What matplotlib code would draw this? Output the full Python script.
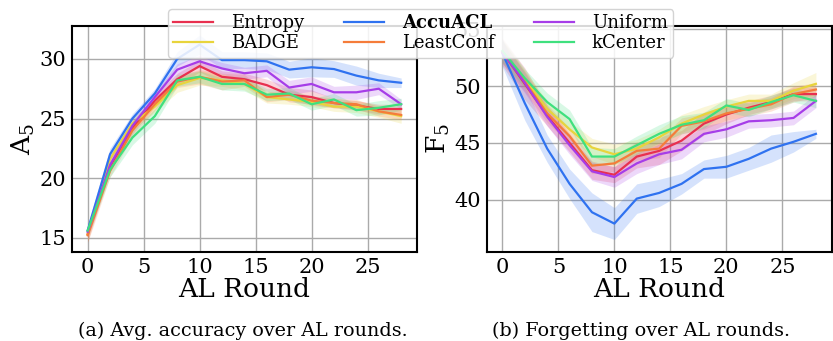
import numpy as np
import matplotlib
matplotlib.use("Agg")
import matplotlib.pyplot as plt

rounds = np.arange(0, 29, 2)

methods = ["Entropy", "BADGE", "AccuACL", "LeastConf", "Uniform", "kCenter"]
colors = {"Entropy": "#e8304f", "BADGE": "#e8d43c", "AccuACL": "#2f72f0",
          "LeastConf": "#f57c3a", "Uniform": "#a63de8", "kCenter": "#3fe07e"}

# A_5 (avg. accuracy)
acc_entropy = [15.3, 21.0, 24.2, 26.5, 28.3, 29.4, 28.5, 28.3, 27.8, 27.0, 26.8, 26.3, 26.1, 25.8, 25.8]
acc_badge = [15.3, 21.6, 24.6, 26.0, 27.8, 28.4, 28.2, 27.9, 26.8, 26.6, 26.4, 26.0, 26.0, 25.6, 25.2]
acc_accuacl = [15.6, 22.0, 25.0, 27.1, 30.0, 31.2, 29.9, 29.9, 29.8, 29.1, 29.3, 29.15, 28.6, 28.2, 28.0]
acc_leastconf = [15.2, 20.6, 24.0, 26.2, 28.1, 28.5, 28.1, 28.2, 26.8, 27.0, 26.5, 26.3, 26.2, 25.6, 25.3]
acc_uniform = [15.5, 21.1, 24.4, 26.8, 29.1, 29.8, 29.2, 28.8, 29.0, 27.6, 27.9, 27.2, 27.2, 27.5, 26.2]
acc_kcenter = [15.6, 20.7, 23.4, 25.2, 28.2, 28.5, 27.9, 27.9, 27.0, 27.1, 26.2, 26.6, 25.7, 25.9, 26.2]

acc_std_entropy = [0.6, 0.5, 0.5, 0.5, 0.5, 0.5, 0.5, 0.5, 0.5, 0.6, 0.6, 0.4, 0.4, 0.4, 0.4]
acc_std_badge = [0.6, 0.5, 0.5, 0.5, 0.6, 0.6, 0.5, 0.5, 0.5, 0.4, 0.4, 0.4, 0.5, 0.5, 0.6]
acc_std_accuacl = [0.5, 0.5, 0.4, 0.4, 0.6, 0.8, 0.7, 0.7, 0.7, 0.7, 0.8, 0.7, 0.8, 0.6, 0.4]
acc_std_leastconf = [0.6, 0.5, 0.5, 0.5, 0.5, 0.6, 0.7, 0.5, 0.4, 0.4, 0.4, 0.4, 0.4, 0.4, 0.4]
acc_std_uniform = [0.5, 0.5, 0.4, 0.4, 0.5, 0.5, 0.5, 0.5, 0.5, 0.6, 0.6, 0.5, 0.6, 0.5, 0.4]
acc_std_kcenter = [0.5, 0.6, 0.6, 0.6, 0.5, 0.5, 0.5, 0.6, 0.5, 0.5, 0.5, 0.5, 0.5, 0.6, 0.5]

# F_5 (forgetting)
fgt_entropy = [53.0, 50.2, 47.4, 45.0, 42.6, 42.2, 43.8, 44.3, 45.2, 46.7, 47.5, 48.1, 48.6, 49.3, 49.3]
fgt_badge = [53.0, 50.6, 48.0, 46.2, 44.6, 44.0, 44.5, 45.5, 46.7, 47.5, 48.2, 48.7, 48.7, 49.6, 50.2]
fgt_accuacl = [52.9, 48.5, 44.5, 41.4, 38.9, 37.9, 40.1, 40.6, 41.4, 42.7, 42.9, 43.6, 44.5, 45.1, 45.8]
fgt_leastconf = [53.0, 50.4, 47.6, 45.6, 43.0, 43.2, 44.3, 44.5, 46.5, 46.9, 47.6, 48.0, 48.4, 49.3, 49.7]
fgt_uniform = [53.0, 50.3, 47.3, 44.8, 42.5, 42.0, 43.2, 44.0, 44.4, 45.8, 46.2, 46.9, 47.0, 47.2, 48.7]
fgt_kcenter = [53.1, 50.7, 48.6, 47.1, 43.8, 43.8, 44.8, 45.8, 46.6, 47.0, 48.3, 47.9, 48.6, 49.2, 48.7]

fgt_std_entropy = [1.2, 1.4, 0.9, 0.8, 0.8, 0.7, 1.0, 1.2, 0.9, 1.0, 0.8, 0.6, 0.6, 0.6, 0.6]
fgt_std_badge = [1.0, 0.8, 0.7, 0.7, 0.8, 0.9, 0.8, 0.7, 0.8, 0.7, 0.6, 0.6, 0.6, 0.7, 1.0]
fgt_std_accuacl = [1.2, 1.5, 1.2, 1.3, 1.7, 1.4, 1.3, 1.2, 0.9, 0.8, 1.0, 1.0, 1.2, 0.9, 0.4]
fgt_std_leastconf = [1.0, 0.9, 0.8, 0.7, 0.7, 0.7, 0.8, 0.8, 0.7, 0.7, 0.6, 0.6, 0.6, 0.7, 0.6]
fgt_std_uniform = [1.0, 0.9, 0.8, 0.8, 0.8, 0.9, 0.9, 0.9, 0.8, 0.7, 0.7, 0.6, 0.6, 0.6, 0.6]
fgt_std_kcenter = [1.0, 0.8, 0.8, 0.8, 0.8, 0.7, 0.8, 0.8, 0.8, 0.7, 0.6, 0.6, 0.6, 0.6, 0.6]

acc = {"Entropy": (acc_entropy, acc_std_entropy), "BADGE": (acc_badge, acc_std_badge),
       "AccuACL": (acc_accuacl, acc_std_accuacl), "LeastConf": (acc_leastconf, acc_std_leastconf),
       "Uniform": (acc_uniform, acc_std_uniform), "kCenter": (acc_kcenter, acc_std_kcenter)}
fgt = {"Entropy": (fgt_entropy, fgt_std_entropy), "BADGE": (fgt_badge, fgt_std_badge),
       "AccuACL": (fgt_accuacl, fgt_std_accuacl), "LeastConf": (fgt_leastconf, fgt_std_leastconf),
       "Uniform": (fgt_uniform, fgt_std_uniform), "kCenter": (fgt_kcenter, fgt_std_kcenter)}

plt.rcParams['font.family'] = ['DejaVu Serif']
plt.rcParams['mathtext.fontset'] = 'dejavuserif'

fig = plt.figure(figsize=(8.33, 3.41), dpi=100)
ax1 = fig.add_axes([0.0864, 0.261, 0.414, 0.663])
ax2 = fig.add_axes([0.5843, 0.261, 0.414, 0.663])

def draw(ax, data, ylabel, ylim, yticks):
    handles = []
    for m in methods:
        mean = np.array(data[m][0])
        std = np.array(data[m][1])
        ax.fill_between(rounds, mean - std, mean + std, color=colors[m], alpha=0.2, lw=0)
        h, = ax.plot(rounds, mean, color=colors[m], lw=1.6, label=m)
        handles.append(h)
    ax.set_xlim(-1.4, 29.4)
    ax.set_ylim(*ylim)
    ax.set_xticks([0, 5, 10, 15, 20, 25])
    ax.set_yticks(yticks)
    ax.grid(True, color='#aaaaaa', lw=1)
    ax.set_axisbelow(True)
    ax.tick_params(labelsize=15, length=0, pad=4)
    for s in ax.spines.values():
        s.set_color('black')
        s.set_linewidth(1.5)
    ax.set_ylabel(ylabel, fontsize=19, labelpad=2)
    ax.set_xlabel("AL Round", fontsize=19, labelpad=0)
    return handles

handles = draw(ax1, acc, "A$_5$", (13.8, 32.77), [15, 20, 25, 30])
draw(ax2, fgt, "F$_5$", (35.4, 55.3), [40, 45, 50, 55])

leg = fig.legend(handles=handles, labels=methods, loc='upper center', ncol=3,
                 bbox_to_anchor=(0.505, 1.0), fontsize=13, frameon=True,
                 handlelength=2.2, columnspacing=2.2, labelspacing=0.1,
                 borderpad=0.3, handletextpad=1.0)
leg.get_frame().set_alpha(0.85)
for t in leg.get_texts():
    if t.get_text() == "AccuACL":
        t.set_fontweight('bold')

fig.text(0.291, 0.03, "(a) Avg. accuracy over AL rounds.", ha='center', va='center',
         fontsize=13.8)
fig.text(0.770, 0.03, "(b) Forgetting over AL rounds.", ha='center', va='center',
         fontsize=13.8)

fig.savefig("out.png", dpi=100)
